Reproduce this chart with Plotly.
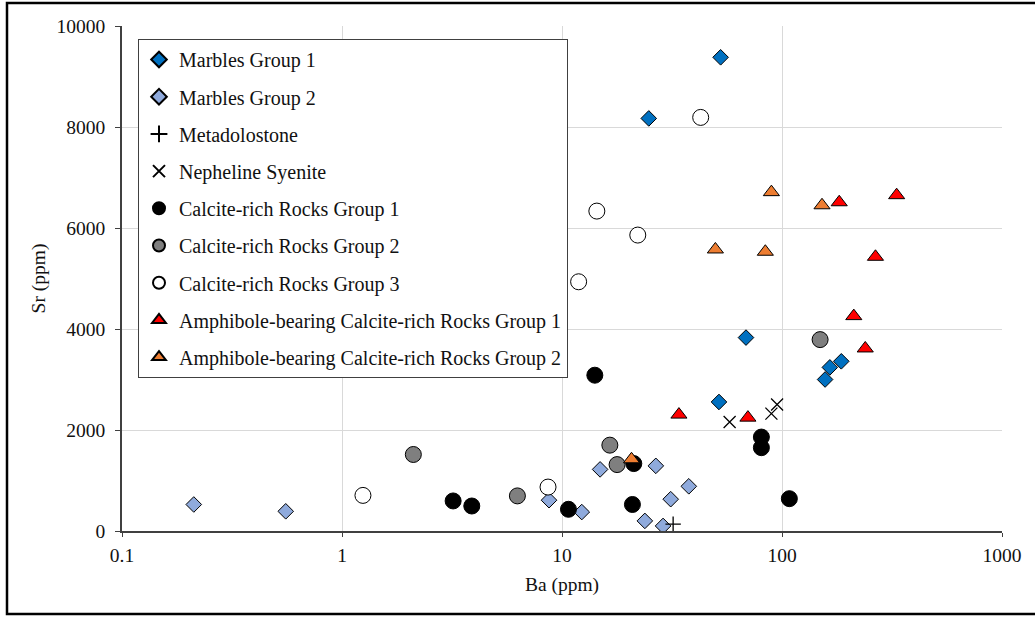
import plotly.graph_objects as go

# ---- data (Ba ppm, Sr ppm) ----
marbles1_ba = [24.8, 52.6, 68.6, 51.7, 157, 165, 186]
marbles1_sr = [8170, 9380, 3830, 2555, 3000, 3240, 3360]

marbles2_ba = [0.212, 0.555, 8.73, 12.3, 14.9, 23.8, 26.7, 28.8, 31.2, 37.7]
marbles2_sr = [525, 390, 610, 375, 1220, 200, 1290, 100, 630, 885]

metadol_ba = [32]
metadol_sr = [135]

nephsy_ba = [57.8, 89.5, 95]
nephsy_sr = [2160, 2325, 2505]

calc1_ba = [3.2, 3.89, 10.7, 14.1, 20.9, 21.2, 80.6, 80.6, 108]
calc1_sr = [595, 495, 430, 3085, 525, 1335, 1860, 1650, 640]

calc2_ba = [2.11, 6.27, 16.5, 17.8, 149]
calc2_sr = [1515, 695, 1700, 1315, 3790]

calc3_ba = [1.245, 8.64, 11.9, 14.4, 22.1, 42.7]
calc3_sr = [705, 870, 4935, 6335, 5860, 8190]

amph1_ba = [34, 70, 182, 332, 266, 212, 239]
amph1_sr = [2305, 2245, 6510, 6650, 5430, 4255, 3615]

amph2_ba = [20.7, 49.8, 84, 89.5, 152]
amph2_sr = [1420, 5575, 5530, 6710, 6450]

x_tickvals = [0.1, 1, 10, 100, 1000]
x_ticktext = ["0.1", "1", "10", "100", "1000"]
y_tickvals = [0, 2000, 4000, 6000, 8000, 10000]
y_ticktext = ["0", "2000", "4000", "6000", "8000", "10000"]

FONT = "Liberation Serif, Times New Roman, serif"
FS = 19.5
LFS = 20
TXT = "#111111"
edge = dict(color="black", width=1)

series = [
    ("Marbles Group 1", marbles1_ba, marbles1_sr,
     dict(symbol="diamond", size=12, color="#0070C0", line=edge)),
    ("Marbles Group 2", marbles2_ba, marbles2_sr,
     dict(symbol="diamond", size=12, color="#8FAADC", line=edge)),
    ("Metadolostone", metadol_ba, metadol_sr,
     dict(symbol="cross-thin-open", size=11, color="black", line=dict(color="black", width=1.3))),
    ("Nepheline Syenite", nephsy_ba, nephsy_sr,
     dict(symbol="x-thin-open", size=12, color="black", line=dict(color="black", width=1.3))),
    ("Calcite-rich Rocks Group 1", calc1_ba, calc1_sr,
     dict(symbol="circle", size=16, color="black", line=edge)),
    ("Calcite-rich Rocks Group 2", calc2_ba, calc2_sr,
     dict(symbol="circle", size=16, color="#7F7F7F", line=edge)),
    ("Calcite-rich Rocks Group 3", calc3_ba, calc3_sr,
     dict(symbol="circle", size=16, color="white", line=edge)),
    ("Amphibole-bearing Calcite-rich Rocks Group 1", amph1_ba, amph1_sr,
     dict(symbol="triangle-up", size=14, color="#FF0000", line=edge)),
    ("Amphibole-bearing Calcite-rich Rocks Group 2", amph2_ba, amph2_sr,
     dict(symbol="triangle-up", size=14, color="#ED7D31", line=edge)),
]

fig = go.Figure()
for i, (name, xs, ys, mk) in enumerate(series):
    fig.add_trace(go.Scatter(x=xs, y=ys, mode="markers", name=name,
                             marker=mk, legendgroup=f"g{i}"))

W, H = 1035, 617
L, R, T, B = 122, 1002, 26, 531
pw, ph = R - L, B - T

fig.update_layout(
    width=W, height=H,
    margin=dict(l=L, r=W - R, t=T, b=H - B, pad=0),
    paper_bgcolor="white", plot_bgcolor="white",
    font=dict(family=FONT, size=FS, color=TXT),
    showlegend=True,
    legend=dict(
        x=(138 - L) / pw, y=1 - (39 - T) / ph, xanchor="left", yanchor="top",
        bgcolor="white", bordercolor="#404040", borderwidth=1,
        font=dict(family=FONT, size=LFS, color=TXT),
        tracegroupgap=8.2, itemsizing="constant",
    ),
    xaxis=dict(
        type="log", range=[-1, 3],
        tickvals=x_tickvals, ticktext=x_ticktext,
        showgrid=True, gridcolor="#D9D9D9", gridwidth=1,
        showline=True, linecolor="#404040", linewidth=1.5,
        ticks="outside", ticklen=4, tickcolor="#404040",
        ticklabelstandoff=2,
        zeroline=False,
        title=dict(text="Ba (ppm)", standoff=12, font=dict(family=FONT, size=FS, color=TXT)),
    ),
    yaxis=dict(
        range=[0, 10000],
        tickvals=y_tickvals, ticktext=y_ticktext,
        showgrid=True, gridcolor="#D9D9D9", gridwidth=1,
        showline=True, linecolor="#404040", linewidth=1.5,
        ticks="outside", ticklen=5, tickcolor="#404040",
        ticklabelstandoff=6,
        zeroline=False,
        title=dict(text="Sr (ppm)", standoff=6, font=dict(family=FONT, size=FS, color=TXT)),
    ),
    shapes=[dict(
        type="rect", xref="paper", yref="paper",
        x0=(7 - L) / pw, x1=(1040 - L) / pw,
        y0=1 - (614 - T) / ph, y1=1 - (3 - T) / ph,
        line=dict(color="black", width=2.5), fillcolor="rgba(0,0,0,0)", layer="above",
    )],
)

fig.write_html("out.html", config={"displayModeBar": False},
               post_script="document.body.style.margin='0';")
